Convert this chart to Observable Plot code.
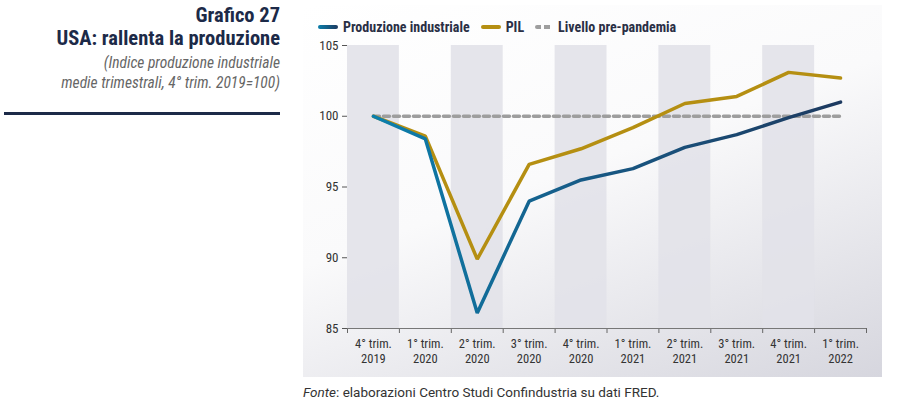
<!DOCTYPE html>
<html><head><meta charset="utf-8">
<script src="https://cdn.jsdelivr.net/npm/d3@7"></script>
<script src="https://cdn.jsdelivr.net/npm/@observablehq/plot@0.6"></script>
<style>
  body{margin:0;width:903px;height:408px;background:#fff;position:relative;overflow:hidden;
    font-family:"Roboto Condensed","Liberation Sans Narrow","Arial Narrow","DejaVu Sans Condensed",sans-serif;}
  #left{position:absolute;left:0;top:0;width:280px;text-align:right;}
  #t1{position:absolute;right:0;top:3px;font-size:20.5px;font-weight:bold;color:#1c2a48;white-space:nowrap;}
  #t2{position:absolute;right:0;top:26px;font-size:20.5px;font-weight:bold;color:#1c2a48;white-space:nowrap;}
  #sub{position:absolute;right:0;top:53px;font-size:15.5px;font-style:italic;color:#666;line-height:20px;white-space:nowrap;}
  #rule{position:absolute;left:4px;top:112px;width:276px;height:3px;background:#1c2a48;}
  #panel{position:absolute;left:303px;top:5px;width:579px;height:372px;
    background:linear-gradient(160deg,#ffffff 0%,#fafafb 45%,#d6d6de 100%);}
  #legend{position:absolute;left:318px;top:19px;font-size:14px;font-weight:bold;color:#2a2f45;display:flex;align-items:center;white-space:nowrap;}
  .sw{display:inline-block;width:20px;height:4px;border-radius:2px;margin-right:5px;}
  .it{margin-right:11px;}
  #chart{position:absolute;left:303px;top:30px;}
  #src{position:absolute;left:303px;top:384px;color:#333;white-space:nowrap;font-family:"Roboto","Liberation Sans","DejaVu Sans",sans-serif;font-size:13.5px;}
</style></head>
<body>
<div id="left">
  <div id="t1">Grafico 27</div>
  <div id="t2">USA: rallenta la produzione</div>
  <div id="sub">(Indice produzione industriale<br>medie trimestrali, 4° trim. 2019=100)</div>
</div>
<div id="rule"></div>
<div id="panel"></div>
<div id="legend">
  <span class="sw" style="background:linear-gradient(90deg,#0b7eaa,#1d3a60)"></span><span class="it">Produzione industriale</span>
  <span class="sw" style="background:#b58f12"></span><span class="it">PIL</span>
  <span class="sw" style="width:18px;height:4px;background:repeating-linear-gradient(90deg,#9e9e9e 0 6px,transparent 6px 9px)"></span><span class="it">Livello pre-pandemia</span>
</div>
<div id="chart"></div>
<div id="src"><i>Fonte</i>: elaborazioni Centro Studi Confindustria su dati FRED.</div>
<script>
const quarters = ["4° trim.\n2019","1° trim.\n2020","2° trim.\n2020","3° trim.\n2020","4° trim.\n2020","1° trim.\n2021","2° trim.\n2021","3° trim.\n2021","4° trim.\n2021","1° trim.\n2022"];
const produzione = [100, 98.4, 86.1, 94.0, 95.5, 96.3, 97.8, 98.7, 99.9, 101.0];
const pil = [100, 98.6, 89.9, 96.6, 97.7, 99.2, 100.9, 101.4, 103.1, 102.7];
const preLevel = [100, 100, 100, 100, 100, 100, 100, 100, 100, 100];
const yTicks = [85, 90, 95, 100, 105];

const idx = quarters.map((_, i) => i);
const bounds = d3.range(quarters.length + 1).map(i => i - 0.5);
const shaded = idx.filter(i => i % 2 === 0);

const plot = Plot.plot({
  width: 579, height: 348,
  marginLeft: 44, marginRight: 16, marginTop: 15, marginBottom: 50,
  style: {background: "transparent", fontFamily: "'Roboto Condensed','Liberation Sans Narrow','Arial Narrow','DejaVu Sans Condensed',sans-serif", color: "#333"},
  x: {type: "linear", domain: [-0.5, quarters.length - 0.5]},
  y: {domain: [85, 105]},
  marks: [
    Plot.rectY(shaded, {x1: d => d - 0.5, x2: d => d + 0.5, y1: 85, y2: 105, fill: "#e2e2e9", fillOpacity: 0.9}),
    Plot.axisY({ticks: yTicks, tickSize: 5, tickPadding: 4, fontSize: 13, label: null, stroke: "#555"}),
    Plot.axisX({ticks: bounds, tickFormat: () => "", tickSize: 5, stroke: "#666", label: null}),
    Plot.axisX({ticks: idx, tickFormat: i => quarters[i], tickSize: 0, tickPadding: 9, fontSize: 12.5, lineHeight: 1.2, label: null}),
    Plot.ruleY([85], {stroke: "#777", strokeWidth: 1.2}),
    Plot.line(idx, {x: d => d, y: d => preLevel[d], stroke: "#9e9e9e", strokeWidth: 3.5, strokeDasharray: "6,4"}),
    Plot.line(idx, {x: d => d, y: d => pil[d], stroke: "#b58f12", strokeWidth: 3.5, strokeLinejoin: "miter"}),
    Plot.line(idx, {x: d => d, y: d => produzione[d], stroke: "url(#prodGrad)", strokeWidth: 3.5, strokeLinejoin: "miter"})
  ]
});
const defs = d3.select(plot).insert("defs", ":first-child");
const g = defs.append("linearGradient").attr("id", "prodGrad").attr("x1", "0").attr("x2", "1").attr("y1", "0").attr("y2", "0");
g.append("stop").attr("offset", "0%").attr("stop-color", "#0b80ad");
g.append("stop").attr("offset", "45%").attr("stop-color", "#175a86");
g.append("stop").attr("offset", "100%").attr("stop-color", "#1d3a60");
document.getElementById("chart").appendChild(plot);
</script>
</body></html>
